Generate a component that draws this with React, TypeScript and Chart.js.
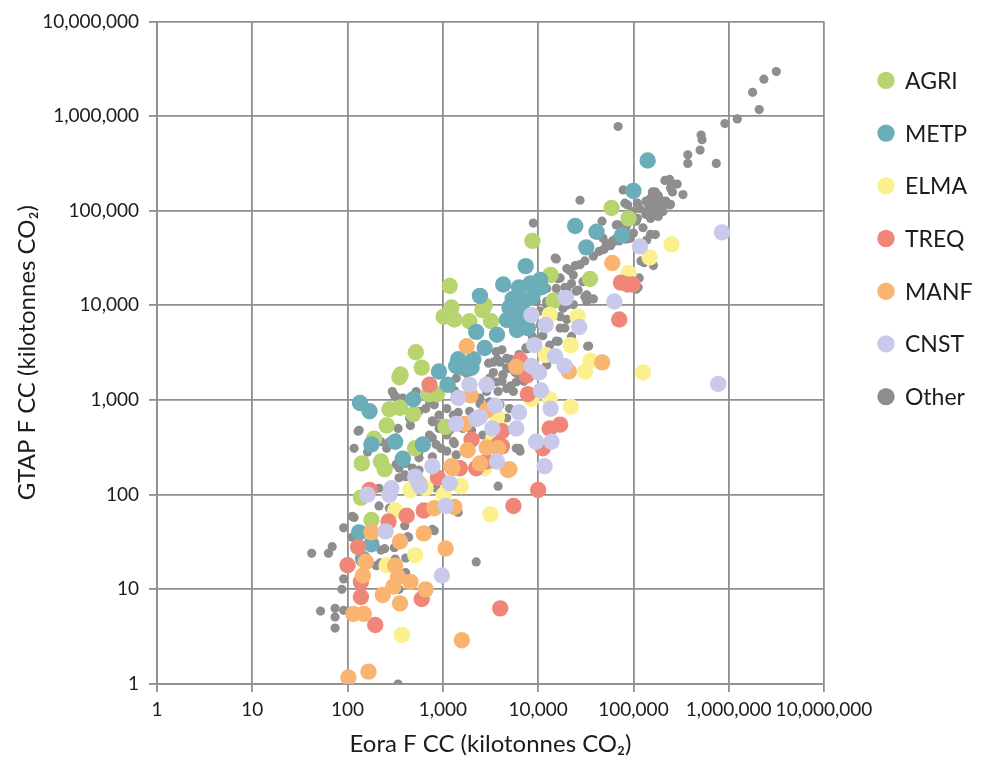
import React, { useEffect, useRef } from "react";
import { Chart, registerables } from "chart.js";

Chart.register(...registerables);

type Pair = [number, number];

// Sector names, in legend order
const sectors = ["AGRI", "METP", "ELMA", "TREQ", "MANF", "CNST", "Other"];

// Decade ticks shared by both log axes
const decadeTicks = [1, 10, 100, 1000, 10000, 100000, 1000000, 10000000];

// [Eora F CC, GTAP F CC] in kilotonnes CO2
const agri: Pair[] = [
  [59000, 107000], [89000, 83000], [8700, 48000], [13500, 21000], [35000, 19000],
  [1180, 16000], [1230, 9500], [1020, 7600], [1320, 7100], [2750, 10000],
  [3200, 6800], [1900, 6800], [2600, 8900], [14500, 11200], [520, 3200],
  [600, 2200], [360, 1860], [350, 1740], [275, 800], [355, 830], [490, 710],
  [257, 540], [710, 1150], [870, 1150], [141, 214], [224, 224], [245, 186],
  [138, 93], [510, 309], [178, 54], [190, 390], [1070, 520],
];

const metp: Pair[] = [
  [141000, 339000], [100000, 162000], [24500, 69000], [41000, 60000], [76000, 55000],
  [32000, 41000], [7400, 26000], [4300, 16600], [2450, 12600], [6300, 15500],
  [8300, 17000], [10500, 18600], [5400, 11700], [7100, 11200], [8700, 12300],
  [5750, 8900], [5100, 7200], [6800, 6800], [7800, 5750], [6000, 5500],
  [10700, 15500], [5000, 9500], [6200, 8000], [7900, 7900], [4700, 7000],
  [2240, 5250], [2750, 3550], [3700, 4900], [1450, 2700], [1380, 2290],
  [1620, 2190], [2000, 2190], [2090, 2700], [910, 2000], [1120, 1450],
  [490, 1020], [135, 930], [170, 760], [178, 340], [316, 363], [617, 340],
  [380, 240], [132, 40], [178, 30], [145, 21],
];

const elma: Pair[] = [
  [251000, 44000], [148000, 32000], [89000, 22000], [126000, 1950], [26000, 7600],
  [22000, 3800], [31000, 2000], [35500, 2600], [22000, 850], [13200, 7900],
  [12000, 3000], [13200, 1020], [8500, 1020], [3700, 660], [3980, 500],
  [3390, 398], [2750, 190], [1550, 123], [1020, 100], [660, 117], [457, 112],
  [316, 68], [3160, 62], [513, 23], [257, 18], [372, 3.3],
];

const treq: Pair[] = [
  [74000, 17400], [87000, 16600], [98000, 16600], [71000, 7100], [724, 1450],
  [7800, 1150], [13200, 500], [17000, 550], [11200, 309], [10000, 112],
  [5500, 76], [4170, 468], [4170, 324], [3800, 339], [2880, 224], [7600, 1820],
  [6460, 2630], [2000, 380], [2240, 190], [1510, 190], [890, 151], [630, 68],
  [417, 60], [269, 52], [170, 112], [129, 28], [100, 18], [138, 12], [138, 8.3],
  [600, 7.9], [195, 4.2], [4000, 6.3],
];

const manf: Pair[] = [
  [60000, 28000], [47000, 2500], [21000, 2000], [5900, 2240], [1780, 3700],
  [1950, 1120], [2880, 776], [1700, 560], [5000, 186], [2880, 316], [3800, 309],
  [1820, 295], [1260, 190], [1320, 74], [813, 72], [630, 39], [1070, 27],
  [355, 32], [178, 40], [155, 19.5], [145, 14], [316, 17.8], [339, 13.5],
  [302, 10.7], [457, 12], [660, 10], [234, 8.7], [355, 7.1], [115, 5.5],
  [148, 5.5], [1580, 2.9], [102, 1.17], [166, 1.35], [562, 132], [2450, 214],
  [4800, 182], [1230, 200],
];

const cnst: Pair[] = [
  [851000, 59000], [117000, 42000], [776000, 1480], [19500, 12000], [63000, 11000],
  [8500, 7900], [12000, 6200], [27000, 5900], [9100, 3800], [15100, 2900],
  [19000, 2290], [8500, 2290], [10200, 1950], [10700, 1260], [2880, 1450],
  [1900, 1450], [1450, 1050], [13500, 810], [6300, 740], [5900, 500], [3550, 870],
  [2450, 660], [2240, 630], [1380, 560], [3300, 500], [9500, 363], [13800, 363],
  [11700, 200], [3700, 224], [776, 200], [1180, 132], [513, 155], [575, 123],
  [288, 117], [275, 100], [162, 100], [1070, 76], [251, 41], [977, 14],
];

const other: Pair[] = [
  [3160000, 2950000], [2340000, 2450000], [1780000, 1780000], [2090000, 1170000],
  [1230000, 933000], [912000, 832000], [69000, 776000], [513000, 631000],
  [525000, 562000], [501000, 437000], [372000, 389000], [372000, 316000],
  [741000, 316000], [214000, 209000], [240000, 214000], [251000, 195000],
  [288000, 191000], [245000, 174000], [331000, 148000], [170000, 158000],
  [182000, 145000], [151000, 135000], [162000, 129000], [191000, 129000],
  [145000, 115000], [170000, 112000], [200000, 107000], [138000, 98000],
  [162000, 89000], [151000, 83000], [182000, 87000], [245000, 117000],
  [78000, 166000], [87000, 115000], [110000, 120000], [117000, 105000],
  [110000, 83000], [85000, 71000], [69000, 71000], [100000, 58000],
  [170000, 56000], [138000, 49000], [91000, 51000], [62000, 47000], [52000, 45000],
  [27500, 129000], [8900, 74000], [15100, 31600], [20000, 24500], [27500, 26900],
  [23400, 20900], [29500, 17800], [17000, 19500], [15500, 15100], [20000, 15100],
  [25100, 14100], [32400, 12900], [32400, 11000], [23400, 10200], [18200, 9300],
  [12300, 15100], [15500, 12000], [12300, 10200], [10500, 8700], [17000, 7600],
  [20000, 7100], [17000, 5750], [22400, 4700], [15500, 4200], [33100, 3700],
  [13200, 3800], [12300, 2340], [4270, 1860], [40700, 60300], [47900, 51300],
  [51300, 41700], [43700, 37200], [60300, 47900], [66100, 51300], [83200, 66100],
  [107000, 77600], [135000, 91200], [158000, 98000], [174000, 115000],
  [219000, 126000], [257000, 158000], [158000, 158000], [186000, 135000],
  [135000, 126000], [151000, 56200], [129000, 28200], [115000, 19500],
  [107000, 14800], [204000, 98000], [240000, 115000], [81300, 120000],
  [97700, 98000], [126000, 66100], [66100, 70800],
  [3630, 3240], [3980, 2510], [3390, 2510], [4680, 2750], [5010, 2140],
  [4270, 1820], [3630, 1550], [3090, 1700], [5890, 1550], [5500, 1230],
  [4680, 1320], [3800, 1230], [2880, 1230], [2450, 1050], [3090, 955],
  [3980, 891], [5010, 813], [6460, 1700], [7590, 3470], [9550, 3800],
  [11200, 4790], [10500, 6170], [12300, 11000], [13200, 8510], [9550, 11000],
  [1100, 813], [912, 692], [776, 589], [1290, 692], [1510, 589], [912, 501],
  [724, 427], [1100, 427], [1290, 363], [851, 339], [1100, 288], [1380, 263],
  [562, 245], [479, 191], [407, 214], [347, 191], [407, 155], [324, 398],
  [275, 363], [525, 1230], [380, 1050], [295, 1230], [1910, 759], [2450, 646],
  [2630, 427], [1620, 501], [4680, 646], [5890, 309], [6460, 288], [562, 759],
  [661, 813], [724, 955], [1380, 1700], [1780, 1910], [3090, 1550],
  [46800, 77600], [15500, 30900], [120000, 29500], [162000, 26300],
  [112000, 15500], [19100, 5750], [16200, 4170], [33900, 3720], [6310, 309],
  [3800, 123], [2240, 19.5], [1450, 65], [813, 41.7], [437, 35.5], [316, 20.9],
  [245, 26.9], [117, 57.5], [91, 44.7], [112, 35.5], [69, 28.2], [63, 24],
  [42, 24], [91, 12.9], [87, 10], [52, 5.9], [74, 6.3], [74, 5.1], [91, 6.0],
  [74, 3.9], [339, 1.0], [132, 479], [117, 309], [162, 282], [224, 363],
  [257, 309], [309, 1120], [813, 891], [129, 468], [447, 646], [912, 550],
  [776, 398], [324, 209], [347, 151], [214, 117], [851, 117], [214, 76],
  [112, 59], [407, 56], [427, 36], [776, 43], [224, 26], [309, 27.5],
  [407, 21.4], [219, 19], [347, 10], [407, 15],
  [8700, 4680], [7410, 3550], [6310, 3020], [5130, 2690], [4170, 3390],
  [3720, 2690], [4680, 2190], [5750, 1950], [7080, 1580], [5130, 1410],
  [4170, 1580], [3390, 1950], [3020, 2450],
  [16200, 19100], [19100, 15500], [22400, 17000], [26300, 14500], [30900, 12300],
  [38000, 11700], [20000, 10000], [17400, 12300], [21400, 23400], [24500, 26300],
  [30900, 29500], [38000, 33100], [49000, 38900], [57500, 42700], [70800, 47900],
  [83200, 50100],
  [562, 282], [776, 251], [955, 309], [1180, 479], [1320, 347], [776, 603],
  [457, 537], [339, 501], [398, 162], [562, 182], [275, 72], [398, 47],
  [200, 17.8], [302, 112], [1450, 741], [2000, 479], [2450, 912], [2090, 1150],
  [1320, 1260], [324, 1070],
];

const seriesData: Pair[][] = [agri, metp, elma, treq, manf, cnst, other];

const colors = ["#b8d46f", "#6badb8", "#fbf08e", "#ef8678", "#f9b470", "#c9c9ec", "#8e8e8e"];
// lower value is painted later (on top); the grey cloud sits underneath
const drawOrder = [6, 5, 4, 3, 2, 1, 7];

const FONT = "Lato, 'Open Sans', sans-serif";
const GRID = "#8f8f8f";
const INK = "#1c1c1c";

const fmt = (v: number) => Number(v).toLocaleString("en-US");

// Legend drawn in the right margin beside the plot area
const sideLegend = {
  id: "sideLegend",
  afterDraw(chart: any) {
    const { ctx, chartArea } = chart;
    ctx.save();
    ctx.font = `23px ${FONT}`;
    ctx.textBaseline = "middle";
    ctx.textAlign = "left";
    chart.data.datasets.forEach((ds: any, i: number) => {
      const cy = chartArea.top + 59 + i * 52.7;
      const cx = chartArea.right + 62;
      ctx.beginPath();
      ctx.fillStyle = ds.backgroundColor;
      ctx.arc(cx, cy, 8.7, 0, Math.PI * 2);
      ctx.fill();
      ctx.fillStyle = INK;
      ctx.fillText(ds.label, cx + 19, cy + 1);
    });
    ctx.restore();
  },
};

function logAxis(title: string, isX: boolean) {
  return {
    type: "logarithmic" as const,
    min: 1,
    max: 10000000,
    afterBuildTicks: (scale: any) => {
      scale.ticks = decadeTicks.map((v) => ({ value: v }));
    },
    afterFit: (scale: any) => {
      if (isX) scale.height = 83;
      else scale.width = 157;
    },
    ticks: {
      autoSkip: false,
      minRotation: 0,
      maxRotation: 0,
      padding: isX ? 6 : 10,
      color: INK,
      font: { family: FONT, size: 19 },
      callback: (v: any) => fmt(v),
    },
    grid: { color: GRID, lineWidth: 1.8, tickLength: 8, drawTicks: true },
    border: { color: GRID, width: 1.8 },
    title: {
      display: true,
      text: title,
      color: INK,
      font: { family: FONT, size: 24, lineHeight: 1.2 },
      padding: isX ? { top: 0, bottom: 8 } : { top: 13, bottom: 0 },
    },
  };
}

export default function App() {
  const canvasRef = useRef<HTMLCanvasElement | null>(null);

  useEffect(() => {
    if (!canvasRef.current) return;
    const chart = new Chart(canvasRef.current, {
      type: "scatter",
      data: {
        datasets: sectors.map((name, i) => ({
          label: name,
          data: seriesData[i].map(([x, y]) => ({ x, y })),
          backgroundColor: colors[i],
          borderWidth: 0,
          pointRadius: name === "Other" ? 4.6 : 8.2,
          pointHoverRadius: name === "Other" ? 4.6 : 8.2,
          order: drawOrder[i],
        })),
      },
      options: {
        animation: false,
        responsive: true,
        maintainAspectRatio: false,
        layout: { padding: { left: 0, top: 18, right: 157, bottom: 0 } },
        plugins: {
          legend: { display: false },
          tooltip: { enabled: false },
        },
        scales: {
          x: logAxis("Eora F CC (kilotonnes CO\u2082)", true),
          y: logAxis("GTAP F CC (kilotonnes CO\u2082)", false),
        },
      },
      plugins: [sideLegend],
    });
    return () => chart.destroy();
  }, []);

  return (
    <div style={{ position: "absolute", left: 0, top: 0, width: 981, height: 767, background: "#fff" }}>
      <canvas ref={canvasRef} />
    </div>
  );
}
